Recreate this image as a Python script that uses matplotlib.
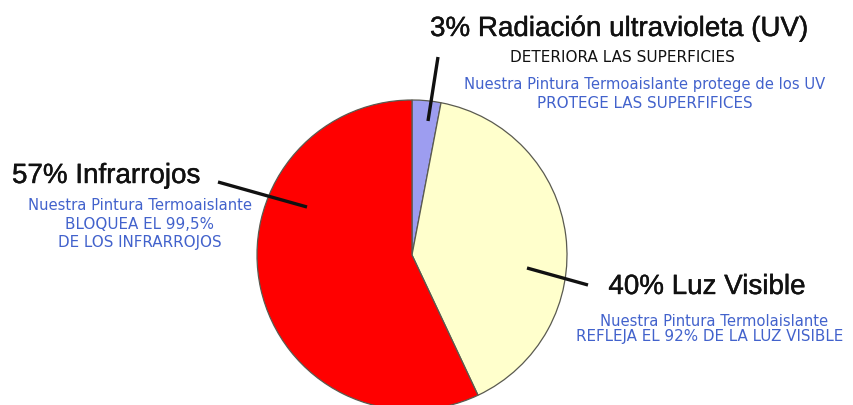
import matplotlib
matplotlib.use("Agg")
import matplotlib.pyplot as plt
import matplotlib.patheffects as pe

# Data
labels = ["Radiación ultravioleta (UV)", "Luz Visible", "Infrarrojos"]
values = [3, 40, 57]
colors = ["#9d9df0", "#ffffcc", "#ff0000"]

W, H = 854, 405
fig = plt.figure(figsize=(W / 100, H / 100), dpi=100)
ax = fig.add_axes([0, 0, 1, 1])

cx, cy, r = 412, H - 255, 155
ax.pie(values, colors=colors, startangle=90, counterclock=False,
       center=(cx, cy), radius=r,
       wedgeprops=dict(edgecolor="#5a5a50", linewidth=0.9))
ax.set_xlim(0, W)
ax.set_ylim(0, H)
ax.set_aspect("equal")
ax.axis("off")

def P(x, y):
    return (x, H - y)

blue = "#4262cc"
thick = [pe.withStroke(linewidth=0.3, foreground="#111111")]
big = dict(fontsize=20, family=["Liberation Sans", "DejaVu Sans"], color="#111111",
           path_effects=thick)
small_blue = dict(fontsize=10.6, family=["DejaVu Sans"], color=blue)
caps_blue = dict(fontsize=10.9, family=["DejaVu Sans"], color=blue)
small_black = dict(fontsize=11.0, family=["DejaVu Sans"], color="#111111")

# leader lines
for (x0, y0), (x1, y1) in [((428, 121), (438, 57)),
                           ((307, 207), (218, 182)),
                           ((527, 268), (588, 285))]:
    ax.plot([x0, x1], [H - y0, H - y1], color="#111111", lw=2.4, solid_capstyle="butt")

# UV
ax.text(*P(619, 29), f"{values[0]}% {labels[0]}", ha="center", va="center", **big)
ax.text(*P(622, 57), "DETERIORA LAS SUPERFICIES", ha="center", va="center", **small_black)
ax.text(*P(645, 85), "Nuestra Pintura Termoaislante protege de los UV", ha="center", va="center", **small_blue)
ax.text(*P(645, 103), "PROTEGE LAS SUPERFIFICES", ha="center", va="center", **caps_blue)

# Infrared
ax.text(*P(140, 206), "Nuestra Pintura Termoaislante", ha="center", va="center", **small_blue)
ax.text(*P(12, 176), f"{values[2]}% {labels[2]}", ha="left", va="center", **big)
ax.text(*P(140, 225), "BLOQUEA EL 99,5%", ha="center", va="center", **caps_blue)
ax.text(*P(140, 243), "DE LOS INFRARROJOS", ha="center", va="center", **caps_blue)

# Visible
ax.text(*P(714, 322), "Nuestra Pintura Termolaislante", ha="center", va="center", **small_blue)
ax.text(*P(707, 287), f"{values[1]}% {labels[1]}", ha="center", va="center", **big)
ax.text(*P(710, 337), "REFLEJA EL 92% DE LA LUZ VISIBLE", ha="center", va="center", **caps_blue)

fig.savefig("out.png", dpi=100, facecolor="white")
